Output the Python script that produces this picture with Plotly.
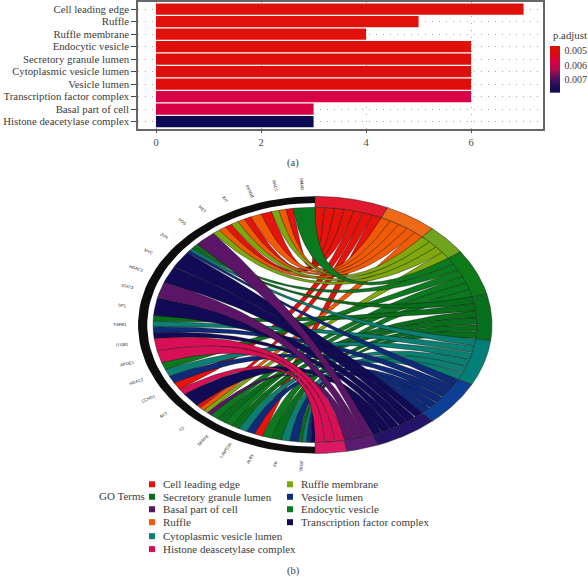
import numpy as np
import plotly.graph_objects as go

# ---- panel (a) data
categories = ["Cell leading edge", "Ruffle", "Ruffle membrane", "Endocytic vesicle",
              "Secretory granule lumen", "Cytoplasmic vesicle lumen", "Vesicle lumen",
              "Transcription factor complex", "Basal part of cell", "Histone deacetylase complex"]
counts = [7, 5, 4, 6, 6, 6, 6, 6, 3, 3]
p_adjust = [0.0048, 0.0048, 0.0048, 0.0049, 0.0050, 0.0050, 0.0050, 0.0057, 0.0057, 0.0079]
p_ticks = [0.005, 0.006, 0.007]
p_scale = [0.00466, 0.0048, 0.0050, 0.0052, 0.0054, 0.0056, 0.0058, 0.0060, 0.0062, 0.0064,
           0.0066, 0.0068, 0.0070, 0.0072, 0.0074, 0.0076, 0.0079]
colorscale = [[0, "#e2120a"], [0.12, "#dd0d0c"], [0.33, "#d80048"], [0.5, "#b00a50"], [0.68, "#52105f"],
              [0.85, "#1c0c5a"], [1, "#0c0a55"]]

# ---- panel (b) data: chord terms (clockwise from the top) and genes (counter-clockwise from the top)
terms = ["Cell leading edge", "Ruffle", "Ruffle membrane", "Endocytic vesicle", "Secretory granule lumen",
         "Cytoplasmic vesicle lumen", "Vesicle lumen", "Transcription factor complex",
         "Basal part of cell", "Histone deacetylase complex"]
ring_colors = ["#e2182c", "#ee6a16", "#6fa51e", "#0d7a18", "#07701f", "#017f78", "#0d3f97", "#231468", "#5a1c70", "#dc1864"]
ribbon_colors = ["#e5130c", "#f25a05", "#7fa80c", "#0b7a1e", "#086e1c", "#0a7f72", "#0e2a78", "#120a55", "#5a1566", "#d90f55"]
E, S, C, V, T, B, H, R, O, L = 3, 4, 5, 6, 7, 8, 9, 0, 1, 2
gene_links = [[E], [R, O, L], [R, O], [R, O, L], [R, O, L], [B], [E, S, C, V], [T], [T], [B], [T],
              [S, C, V, T], [H, H], [E, C, V, R], [H], [T], [R, O, L, B], [E, S], [E, S], [C, V, R],
              [E, S], [C, V], [S, C, V, T]]
gene_widths = [7.8, 7.8, 7.8, 7.8, 7.8, 8, 5.3, 8.4, 8.4, 8, 8.6, 11.4, 12, 14.5, 3, 7, 7, 6, 6, 9, 7, 6, 6]
gene_names = ["SMAD", "RAC1", "PFN1B", "KIT", "MET", "FOS", "JUN", "MYC", "HDAC1", "STAT3", "SP1", "TGFB1",
              "ITGB1", "APOE1", "HDAC2", "CCND1", "AKT", "F2", "SERPE", "LAMTOR", "ALB1", "FN", "VEGF"]
legend_col1 = ["Cell leading edge", "Secretory granule lumen", "Basal part of cell", "Ruffle",
               "Cytoplasmic vesicle lumen", "Histone deascetylase complex"]
legend_col1_idx = [0, 4, 8, 1, 5, 9]
legend_col2 = ["Ruffle membrane", "Vesicle lumen", "Endocytic vesicle", "Transcription factor complex"]
legend_col2_idx = [2, 6, 3, 7]

FONT = "Liberation Serif"
W, H_PX = 588, 577
R_RIB, R_BLACK = 0.915, 0.948
CX, CY, RX, RY = 315.0, 324.0, 177.0, 129.0

def dom(a, b, total):
    return [a / total, b / total]

fig = go.Figure()

# --- bar chart
fig.add_trace(go.Bar(x=counts, y=categories, orientation="h", width=0.9, xaxis="x", yaxis="y",
                     marker=dict(color=p_adjust, colorscale=colorscale, cmin=p_scale[0], cmax=p_scale[-1],
                                 line=dict(width=0)), showlegend=False))
# --- colour scale
fig.add_trace(go.Heatmap(z=[[v] for v in p_scale], y=p_scale, x=[0], colorscale=colorscale, zmin=p_scale[0],
                         zmax=p_scale[-1], showscale=False, zsmooth="best", xaxis="x3", yaxis="y3"))

# --- chord geometry
def pt(theta, r):
    """theta in degrees clockwise from the top; returns unit-ellipse coordinates."""
    t = np.radians(theta)
    return r * np.sin(t), r * np.cos(t)

def arc(a, b, r, n=24):
    ts = np.linspace(a, b, n)
    return pt(ts, r)

def bez(p0, p2, n=50):
    s = np.linspace(0, 1, n)
    return (1 - s) ** 2 * p0[0] + s ** 2 * p2[0], (1 - s) ** 2 * p0[1] + s ** 2 * p2[1]

unit = 180.0 / sum(counts)
term_start = np.cumsum([0] + counts) * unit
gene_scale = 180.0 / sum(gene_widths)
gene_step = 180.0 / len(gene_links)

# left-side slots per link
slots = {i: [] for i in range(len(terms))}
pos = 0.0
for g, links in enumerate(gene_links):
    span = gene_widths[g] * gene_scale
    w = span / len(links)
    for k, t in enumerate(links):
        a = -(pos + k * w)
        slots[t].append((a, a - w))
    pos += span

for t in range(len(terms)):
    for n, (la, lb) in enumerate(slots[t]):
        ra = term_start[t] + n * unit
        rb = ra + unit
        x1, y1 = arc(la, lb, R_RIB)
        x2, y2 = bez(pt(lb, R_RIB), pt(rb, R_RIB))
        x3, y3 = arc(rb, ra, R_RIB)
        x4, y4 = bez(pt(ra, R_RIB), pt(la, R_RIB))
        fig.add_trace(go.Scatter(x=np.concatenate([x1, x2, x3, x4]), y=np.concatenate([y1, y2, y3, y4]),
                                 mode="lines", fill="toself", fillcolor=ribbon_colors[t],
                                 line=dict(color="#101010", width=0.4), hoverinfo="skip", showlegend=False,
                                 xaxis="x2", yaxis="y2"))

def ring(a, b, r0, r1, color, lw=0.5):
    xo, yo = arc(a, b, r1, 60)
    xi, yi = arc(b, a, r0, 60)
    fig.add_trace(go.Scatter(x=np.concatenate([xo, xi, xo[:1]]), y=np.concatenate([yo, yi, yo[:1]]),
                             mode="lines", fill="toself", fillcolor=color, line=dict(color="#202020", width=lw),
                             hoverinfo="skip", showlegend=False, xaxis="x2", yaxis="y2"))

ring(-180, 0, R_BLACK, 1.0, "#0d0d0d", 0)
for t in range(len(terms)):
    ring(term_start[t], term_start[t + 1], R_RIB, 1.0, ring_colors[t])

annotations = []
for g, name in enumerate(gene_names):
    th = (g + 0.5) * gene_step
    x, y = pt(-th, 1.10)
    ang = np.degrees(np.arctan2(RY * np.cos(np.radians(th)), RX * np.sin(np.radians(th))))
    annotations.append(dict(x=x, y=y, xref="x2", yref="y2", text=name, showarrow=False, textangle=ang,
                            font=dict(family="Liberation Sans", size=4.2, color="#222222")))

# --- page-level items, on a pixel axis pair
def page_text(x, y, text, anchor="left", size=11, color="#3c3c3c"):
    annotations.append(dict(x=x, y=y, xref="x4", yref="y4", text=text, showarrow=False, xanchor=anchor,
                            yanchor="middle", font=dict(family=FONT, size=size, color=color)))

rows1 = [484, 496.5, 509, 522, 536, 549]
rows2 = [484, 496.5, 509, 522]
fig.add_trace(go.Scatter(x=[152] * 6, y=rows1, mode="markers", xaxis="x4", yaxis="y4", showlegend=False, hoverinfo="skip",
                         marker=dict(symbol="square", size=6, color=[ribbon_colors[i] for i in legend_col1_idx])))
fig.add_trace(go.Scatter(x=[290] * 4, y=rows2, mode="markers", xaxis="x4", yaxis="y4", showlegend=False, hoverinfo="skip",
                         marker=dict(symbol="square", size=6, color=[ribbon_colors[i] for i in legend_col2_idx])))
for lab, yy in zip(legend_col1, rows1):
    page_text(161, yy, lab)
for lab, yy in zip(legend_col2, rows2):
    page_text(299, yy, lab)
page_text(97, 496, "GO Terms")
page_text(293, 162, "(a)", "center", 10.5)
page_text(293, 571, "(b)", "center", 10.5)
page_text(551, 33, "p.adjust", "left", 10.8)

fig.update_layout(
    width=W, height=H_PX, autosize=False, margin=dict(l=0, r=0, t=0, b=0), paper_bgcolor="white",
    plot_bgcolor="rgba(0,0,0,0)", annotations=annotations, showlegend=False,
    font=dict(family=FONT, color="#3c3c3c"),
    xaxis=dict(domain=dom(138, 543, W), range=[-0.343, 7.37], anchor="y", tickvals=[0, 2, 4, 6], showgrid=True,
               gridcolor="#a8a8a8", griddash="1px,6px", gridwidth=1, zeroline=False, ticks="outside", ticklen=3,
               tickcolor="#555555", showline=True, linecolor="#666666", linewidth=1.5, mirror=True,
               tickfont=dict(family=FONT, size=10.5, color="#4a4a4a")),
    yaxis=dict(domain=[1 - 127 / H_PX, 1], range=[9.56, -0.56], anchor="x", type="category", categoryorder="array",
               categoryarray=categories, tickmode="array", tickvals=categories, ticktext=categories, showgrid=True,
               gridcolor="#a8a8a8", griddash="1px,6px", gridwidth=1,
               ticks="outside", ticklen=5, tickcolor="#444444", showline=True, linecolor="#666666", linewidth=1.5,
               mirror=True, tickfont=dict(family=FONT, size=10.8, color="#3c3c3c"), automargin=False),
    xaxis2=dict(domain=dom(100, 530, W), range=[-215 / RX, 215 / RX], visible=False, fixedrange=True, anchor="y2"),
    yaxis2=dict(domain=[1 - 485 / H_PX, 1 - 170 / H_PX], range=[(CY - 485) / RY, (CY - 170) / RY], visible=False,
                fixedrange=True, anchor="x2"),
    xaxis3=dict(domain=dom(550, 560.5, W), range=[-0.5, 0.5], visible=False, anchor="y3"),
    yaxis3=dict(domain=[1 - 91 / H_PX, 1 - 44 / H_PX], range=[p_scale[-1], p_scale[0]], anchor="x3", side="right",
                tickvals=p_ticks, ticktext=["%.3f" % v for v in p_ticks], ticks="outside", ticklen=1, tickcolor="white",
                showgrid=False, zeroline=False, showline=False, tickfont=dict(family=FONT, size=10, color="#3c3c3c")),
    xaxis4=dict(domain=[0, 1], range=[0, W], visible=False, anchor="y4"),
    yaxis4=dict(domain=[0, 1], range=[H_PX, 0], visible=False, anchor="x4"),
)

fig.write_html("out.html", config={"displayModeBar": False},
               post_script="document.body.style.margin='0';document.documentElement.style.overflow='hidden';")
